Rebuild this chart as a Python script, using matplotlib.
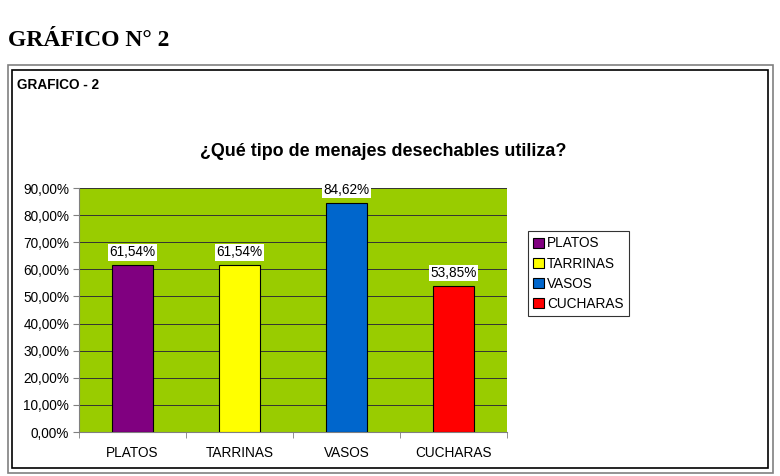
import matplotlib.pyplot as plt
from matplotlib.patches import Rectangle
from matplotlib.ticker import FuncFormatter

# datos
categorias = ["PLATOS", "TARRINAS", "VASOS", "CUCHARAS"]
porcentajes = [61.54, 61.54, 84.62, 53.85]
colores = ["#800080", "#FFFF00", "#0066CC", "#FF0000"]

plt.rcParams["font.family"] = ["Liberation Sans", "DejaVu Sans"]

W, H = 780, 476
fig = plt.figure(figsize=(W / 100, H / 100), dpi=100)


def fx(px):
    return px / W


def fy(py):
    return 1 - py / H


# marcos alrededor del gráfico
fig.patches.append(Rectangle((fx(8), fy(473)), fx(765), 408 / H, transform=fig.transFigure,
                             fill=False, edgecolor="#808080", linewidth=1.2))
fig.patches.append(Rectangle((fx(12), fy(468)), fx(756), 398 / H, transform=fig.transFigure,
                             fill=False, edgecolor="black", linewidth=1.2))

fig.text(fx(8), fy(40), "GRÁFICO N° 2", family=["Liberation Serif", "DejaVu Serif"],
         fontsize=17, fontweight="bold", va="center", ha="left")
fig.text(fx(17), fy(85), "GRAFICO - 2", fontsize=9.8, fontweight="bold", va="center", ha="left")
fig.text(fx(383), fy(151), "¿Qué tipo de menajes desechables utiliza?", fontsize=12.9,
         fontweight="bold", va="center", ha="center")

ax = fig.add_axes([fx(79), fy(432), fx(507) - fx(79), (432 - 188) / H])
ax.set_facecolor("#99CC00")

x = range(len(categorias))
barras = ax.bar(x, [p / 100 for p in porcentajes], width=0.39, color=colores,
                edgecolor="black", linewidth=0.8, zorder=3, label=None)

for xi, p in zip(x, porcentajes):
    ax.text(xi, p / 100 + 0.048, f"{p:.2f}%".replace(".", ","), ha="center", va="center",
            fontsize=9.8, zorder=4,
            bbox=dict(facecolor="white", edgecolor="none", pad=1.0))

ax.set_xlim(-0.5, 3.5)
ax.set_ylim(0, 0.9)
ax.set_yticks([i / 10 for i in range(10)])
ax.yaxis.set_major_formatter(FuncFormatter(lambda v, _: f"{v * 100:.2f}%".replace(".", ",")))
ax.set_xticks(list(x))
ax.set_xticklabels(categorias)
ax.set_xticks([i - 0.5 for i in range(5)], minor=True)
ax.tick_params(axis="x", which="major", length=0, pad=10, labelsize=9.8)
ax.tick_params(axis="x", which="minor", length=4, direction="out", color="#808080")
ax.tick_params(axis="y", length=4, direction="out", labelsize=9.8, color="#808080", pad=3)
ax.grid(axis="y", color="#333333", linewidth=0.7, zorder=1)

ax.spines["top"].set_visible(False)
ax.spines["right"].set_visible(False)
ax.spines["left"].set_color("#808080")
ax.spines["bottom"].set_color("#808080")

leg = fig.legend(barras, categorias, loc="upper left", bbox_to_anchor=(fx(528), fy(231)),
                 fontsize=9.8, frameon=True, fancybox=False, edgecolor="black",
                 handlelength=0.75, handleheight=0.75, handletextpad=0.25,
                 labelspacing=0.45, borderpad=0.4, borderaxespad=0)
leg.get_frame().set_linewidth(0.8)

fig.savefig("out.png", dpi=100)
